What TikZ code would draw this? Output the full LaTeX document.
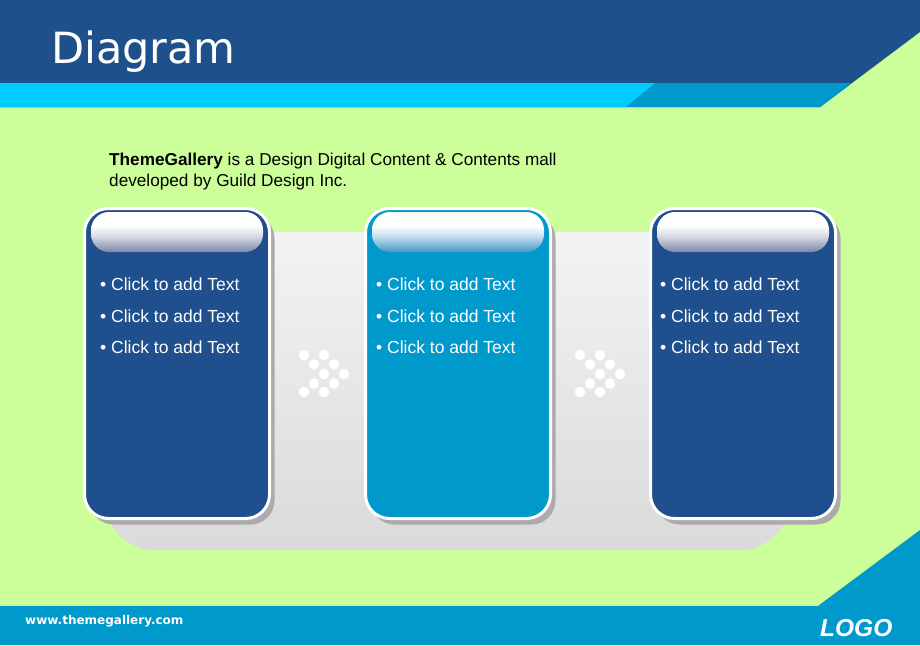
\documentclass[tikz,border=0pt]{standalone}
\usepackage{fontspec}
\setmainfont{Liberation Sans}
\newfontfamily\verdanafont{DejaVu Sans}
\usetikzlibrary{shadows}

\definecolor{headblue}{RGB}{30,80,140}
\definecolor{boxblue}{RGB}{31,79,140}
\definecolor{midblue}{RGB}{0,153,204}
\definecolor{cyanband}{RGB}{0,204,255}
\definecolor{bggreen}{RGB}{204,255,153}
\definecolor{cardshadow}{RGB}{172,170,172}
\definecolor{backlight}{RGB}{243,243,243}
\definecolor{backdark}{RGB}{218,218,218}
\definecolor{pillgray}{RGB}{125,135,168}
\definecolor{pillblue}{RGB}{70,150,202}

\pgfdeclareverticalshading{glossgray}{100bp}{color(0bp)=(pillgray); color(25bp)=(pillgray); color(45bp)=(white!70!pillgray); color(58bp)=(white); color(100bp)=(white)}
\pgfdeclareverticalshading{glossblue}{100bp}{color(0bp)=(pillblue); color(25bp)=(pillblue); color(45bp)=(white!70!pillblue); color(58bp)=(white); color(100bp)=(white)}

\begin{document}
\begin{tikzpicture}[x=1pt,y=-1pt,
            card/.style={draw=white,line width=3pt,rounded corners=24pt,minimum width=185pt,minimum height=310pt,inner sep=0pt,
                drop shadow={shadow xshift=5pt,shadow yshift=-6pt,fill=cardshadow,opacity=1}},
            pill/.style={rounded corners=18pt,minimum width=172pt,minimum height=40pt,inner sep=0pt,shading=#1},
            item/.style={anchor=base west,inner sep=0pt,text=white,font=\fontsize{17.5}{21}\selectfont},
            dot/.style={circle,fill=white,inner sep=0pt,minimum size=10.5pt}]
            \useasboundingbox (0,0) rectangle (920,645);
            \fill[bggreen] (0,0) rectangle (920,645);

            % header and footer bands
            \fill[headblue] (0,0) -- (920,0) -- (920,32) -- (820,107) -- (0,107) -- cycle;
            \fill[midblue] (0,83) -- (852,83) -- (820,107) -- (0,107) -- cycle;
            \fill[cyanband] (0,83) -- (655,83) -- (626,107) -- (0,107) -- cycle;
            \fill[midblue] (0,606) -- (818,606) -- (920,530) -- (920,645) -- (0,645) -- cycle;

            \node[anchor=base west,inner sep=0pt,text=white,font=\verdanafont\fontsize{43}{50}\selectfont] (title) at (51,63) {Diagram};
            \node[anchor=base west,inner sep=0pt,text=white,font=\verdanafont\bfseries\fontsize{12}{14}\selectfont] (web) at (25,624) {www.themegallery.com};
            \node[anchor=base west,inner sep=0pt,text=white,font=\bfseries\itshape\fontsize{24.5}{28}\selectfont] (logo) at (820,636) {LOGO};

            \node[anchor=base west,inner sep=0pt,font=\fontsize{17.2}{21}\selectfont] (desc1) at (109,165) {\textbf{ThemeGallery} is a Design Digital Content \& Contents mall};
            \node[anchor=base west,inner sep=0pt,font=\fontsize{17.2}{21}\selectfont] (desc2) at (109,186) {developed by Guild Design Inc.};

            \shade[top color=backlight,bottom color=backdark,rounded corners=50pt] (105,232) rectangle (790,550);

            \node[card,fill=boxblue] (box1) at (177,363.5) {};
            \node[card,fill=midblue] (box2) at (458,363.5) {};
            \node[card,fill=boxblue] (box3) at (743,363.5) {};

            \node[pill=glossgray] (pill1) at (177,232) {};
            \node[pill=glossblue] (pill2) at (458,232) {};
            \node[pill=glossgray] (pill3) at (743,232) {};

            \foreach \b/\x in {1/100,2/376,3/660}
                \foreach \r in {0,1,2}
                    \node[item] (item\b\r) at (\x,290.5+31.5*\r) {\textbullet\ Click to add Text};

            \foreach \nm/\ax in {a/304,b/580}
                \foreach \dx/\dy [count=\k] in {0/0,20/0,10/9.5,30/9.5,20/19,40/19,10/28.5,30/28.5,0/37,20/37}
                    \node[dot] (dot\nm\k) at (\ax+\dx,355+\dy) {};
        \end{tikzpicture}
\end{document}
